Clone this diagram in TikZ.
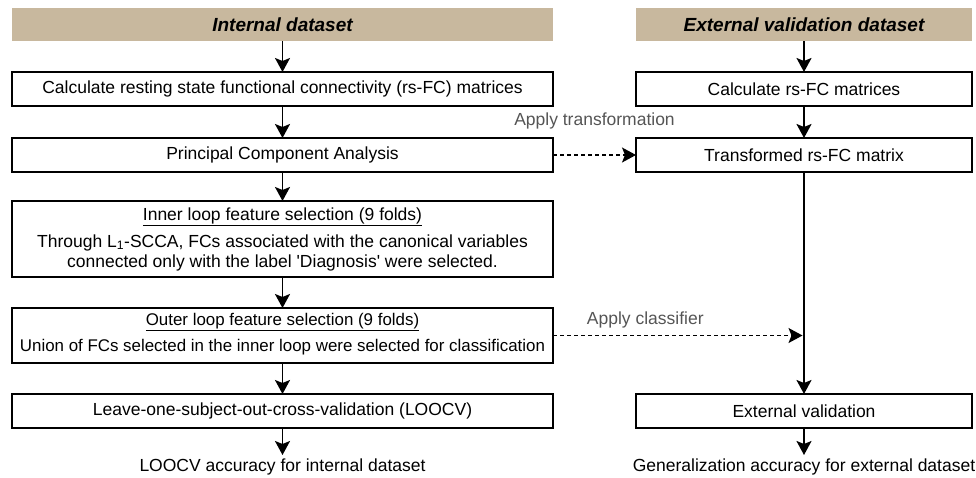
\documentclass[tikz,border=0pt]{standalone}
\usepackage{fontspec}
\setmainfont{Liberation Sans}
\usetikzlibrary{arrows.meta,positioning}
\definecolor{headtan}{RGB}{200,184,158}
\definecolor{notegray}{RGB}{85,85,85}

\begin{document}
\begin{tikzpicture}[x=1pt,y=1pt,>={Stealth[length=14pt,width=15pt,inset=3pt]},
                    font=\fontsize{17.5}{20}\selectfont]
  \useasboundingbox (0,0) rectangle (976,-477);
  \tikzset{node distance = 31pt and 83pt,
           Head/.style   = {fill=headtan,minimum height=33pt,inner sep=0pt,outer sep=0pt,
                            font=\fontsize{19}{20}\selectfont\bfseries\itshape},
           Box/.style    = {draw,line width=1.8pt,minimum height=34pt,inner sep=0pt,outer sep=0pt,
                            align=center},
           Wide/.style   = {Box,minimum width=541pt},
           Narrow/.style = {Box,minimum width=336pt},
           Note/.style   = {text=notegray},
           Flow/.style   = {->,line width=1.8pt},
           Hint/.style   = {->,line width=1.5pt,dash pattern=on 4pt off 3pt}}
  \node[Head,minimum width=541pt] (hdrL) at (282.5,-24.5) {Internal dataset};
  \node[Wide,below=of hdrL] (calcL) {Calculate resting state functional connectivity (rs-FC) matrices};
  \node[Wide,below=32pt of calcL] (pca) {Principal Component Analysis};
  \node[Wide,below=29pt of pca,minimum height=76pt] (inner)
    {\underline{Inner loop feature selection (9 folds)}\\[7pt]
     Through L\textsubscript{1}-SCCA, FCs associated with the canonical variables\\
     connected only with the label \textquotesingle Diagnosis\textquotesingle{} were selected.};
  \node[Wide,below=of inner,minimum height=55pt,font=\fontsize{16.9}{20}\selectfont] (outer)
    {\underline{Outer loop feature selection (9 folds)}\\[6pt]
     Union of FCs selected in the inner loop were selected for classification\rule[-7pt]{0pt}{1pt}};
  \node[Wide,below=of outer] (loocv) {Leave-one-subject-out-cross-validation (LOOCV)};
  \node[below=27pt of loocv] (accL) {LOOCV accuracy for internal dataset};
  \node[Narrow,right=of calcL] (calcR) {Calculate rs-FC matrices};
  \node[Head,minimum width=336pt,above=of calcR] (hdrR) {External validation dataset};
  \node[Narrow,below=32pt of calcR] (trans) {Transformed rs-FC matrix};
  \node[Narrow,right=of loocv] (extval) {External validation};
  \node[below=27pt of extval] (accR) {Generalization accuracy for external dataset};
  \coordinate (hit) at ([xshift=-1.5pt]trans.south |- outer.east);
  \draw[Flow] (hdrL.south) -- (calcL.north);
  \draw[Flow] (calcL.south) -- (pca.north);
  \draw[Flow] (pca.south) -- (inner.north);
  \draw[Flow] (inner.south) -- (outer.north);
  \draw[Flow] (outer.south) -- (loocv.north);
  \draw[Flow] (loocv.south) -- (accL.north);
  \draw[Flow] (hdrR.south) -- (calcR.north);
  \draw[Flow] (calcR.south) -- (trans.north);
  \draw[Flow] (trans.south) -- (extval.north);
  \draw[Flow] (extval.south) -- (accR.north);
  \draw[Hint] (pca.east) -- (trans.west) node[Note,midway,above=22pt] (applyT) {Apply transformation};
  \draw[Hint] (outer.east) -- (hit) node[Note,pos=0.37,above=3pt] (applyC) {Apply classifier};
\end{tikzpicture}
\end{document}
